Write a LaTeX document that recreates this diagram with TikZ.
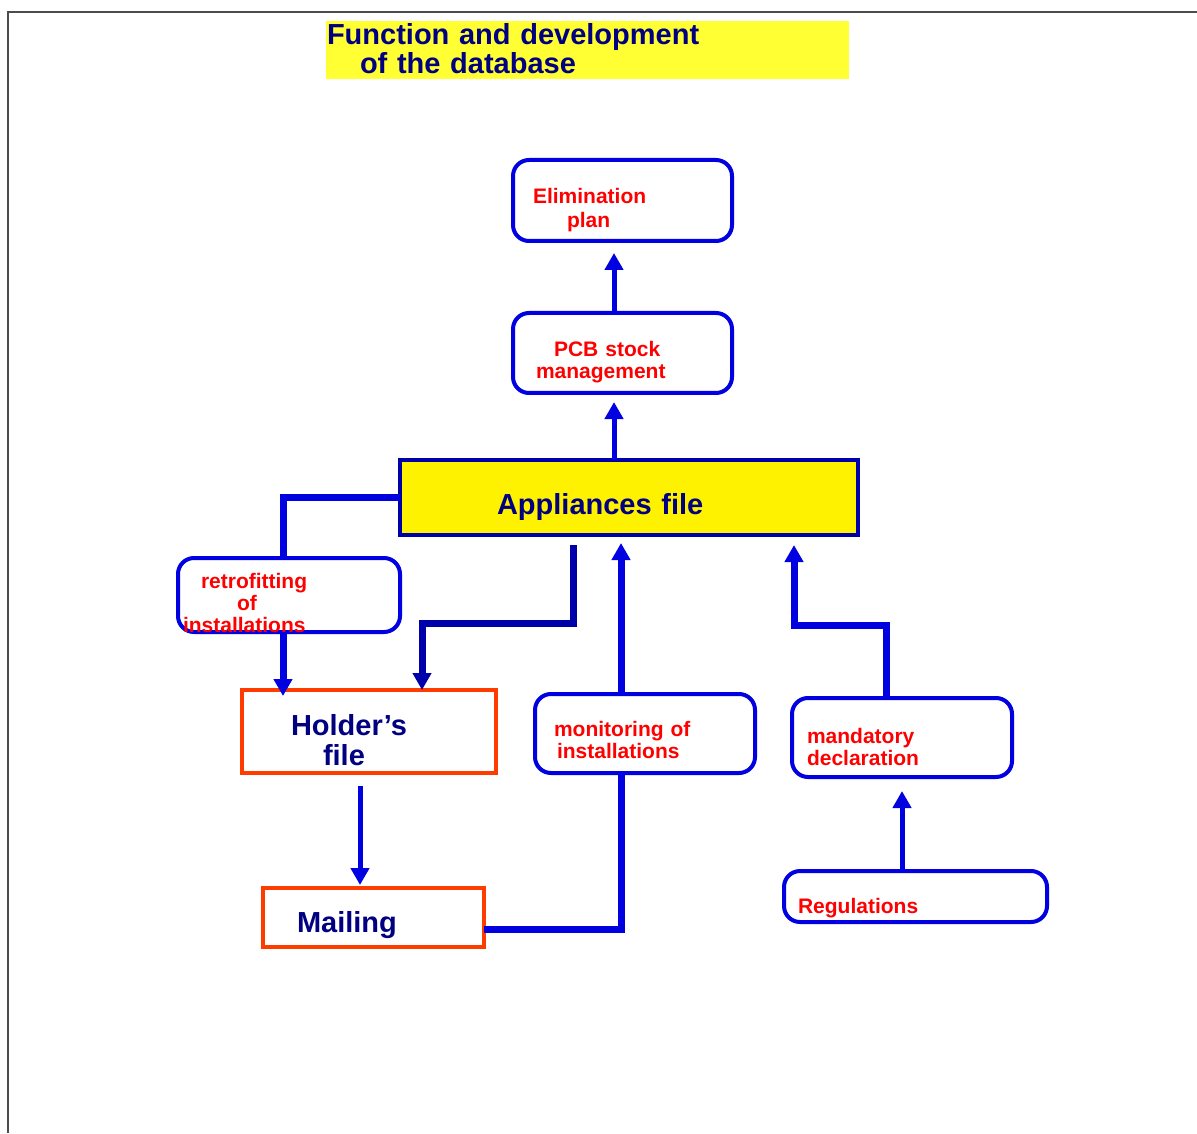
\documentclass[tikz,border=0pt]{standalone}
\usepackage{fontspec}
\setmainfont{Liberation Sans}
\usetikzlibrary{arrows.meta}

\definecolor{navy}{RGB}{0,0,128}
\definecolor{boxblue}{RGB}{0,0,224}
\definecolor{darkblue}{RGB}{0,0,170}
\definecolor{redorange}{RGB}{255,60,0}
\definecolor{titleyellow}{RGB}{255,255,51}

\begin{document}
\begin{tikzpicture}[x=0.5pt,y=-0.5pt,
  task/.style={draw=boxblue, line width=2pt, rounded corners=8pt, anchor=north west,
    outer sep=0pt, inner ysep=0pt, align=left, text=red, font=\fontsize{10.5}{11}\selectfont\bfseries},
  filebox/.style={draw=redorange, line width=2pt, anchor=north west, outer sep=0pt,
    inner ysep=0pt, align=left, text=navy, font=\fontsize{14.5}{15}\selectfont\bfseries},
  link/.style={boxblue, line width=3.5pt},
  tip/.style={-{Triangle[width=9pt,length=8.5pt]}},
  arr/.style={boxblue, line width=2.5pt, tip}]

  \useasboundingbox (0,0) rectangle (1197,1133);
  \draw[line width=0.6pt, black!70] (8,1133) -- (8,12) -- (1197,12);

  \node[fill=titleyellow, anchor=north west, outer sep=0pt, inner ysep=0pt, inner xsep=0.5pt,
    text width=260.5pt, text height=12pt, text depth=17pt, align=left, text=navy,
    font=\fontsize{14.5}{14.5}\selectfont\bfseries]
    (title) at (326,21) {Function and development\\\hspace{16.5pt}of the database};

  % boxes
  \node[task, text width=89.5pt, inner xsep=10pt, text height=22pt, text depth=18.5pt,
    font=\fontsize{10.5}{12}\selectfont\bfseries]
    (elim) at (513,160) {Elimination\\\hspace{17pt}plan};
  \node[task, text width=86.5pt, inner xsep=11.5pt, text height=22pt, text depth=18pt]
    (pcb) at (513,313) {\hspace{9pt}PCB stock\\management};
  \node[draw=darkblue, fill=yellow, line width=2pt, anchor=north west, outer sep=0pt,
    inner ysep=0pt, inner xsep=48.5pt, text width=132pt, text height=27pt, text depth=10.5pt,
    align=left, text=navy, font=\fontsize{14.5}{15}\selectfont\bfseries]
    (appl) at (400,460) {Appliances file};
  \node[task, text width=106pt, inner xsep=2.5pt, text height=15pt, text depth=22pt]
    (retro) at (178,558) {\hspace{9pt}retrofitting\\\hspace{27pt}of\\installations};
  \node[filebox, text width=78pt, inner xsep=24.5pt, text height=22.5pt, text depth=19pt]
    (holder) at (242,690) {Holder’s\\\hspace{16pt}file};
  \node[filebox, text width=76.5pt, inner xsep=17pt, text height=22pt, text depth=7.5pt]
    (mail) at (263,888) {Mailing};
  \node[task, text width=91pt, inner xsep=9.5pt, text height=21pt, text depth=18.5pt]
    (mon) at (535,694) {monitoring of\\\hspace{1.5pt}installations};
  \node[task, text width=95pt, inner xsep=7.5pt, text height=22.5pt, text depth=17pt]
    (mand) at (792,698) {mandatory\\declaration};
  \node[task, text width=117.5pt, inner xsep=7pt, text height=21pt, text depth=4.5pt]
    (reg) at (784,871) {Regulations};

  % connectors
  \coordinate (ax) at (614,0);
  \coordinate (rx) at (283,0);
  \coordinate (mx) at (360,0);
  \coordinate (m3) at (621,543);
  \coordinate (h1) at (573,545);
  \coordinate (h2) at (422,623);
  \coordinate (k1) at (886,625);
  \coordinate (k2) at (794,545);

  \draw[arr, shorten >=4.5pt] (ax |- appl.north) -- (ax |- pcb.south);
  \draw[arr, shorten >=6pt] (ax |- pcb.north) -- (ax |- elim.south);
  \draw[link] (appl.west) -| (rx |- retro.north);
  \draw[link, tip, shorten >=-3pt] (rx |- retro.south) -- (rx |- holder.north);
  \draw[link, darkblue, tip] (h1) |- (h2) -- (h2 |- holder.north);
  \draw[arr, shorten <=6.5pt, shorten >=1.5pt] (mx |- holder.south) -- (mx |- mail.north);
  \draw[link] ([yshift=-6pt]mail.east) -| (m3 |- mon.south);
  \draw[link, tip] (m3 |- mon.north) -- (m3);
  \draw[link, tip] (k1 |- mand.north) -- (k1) -| (k2);
  \draw[arr, shorten >=7pt] (reg.north -| mand.south) -- (mand.south);

\end{tikzpicture}
\end{document}
